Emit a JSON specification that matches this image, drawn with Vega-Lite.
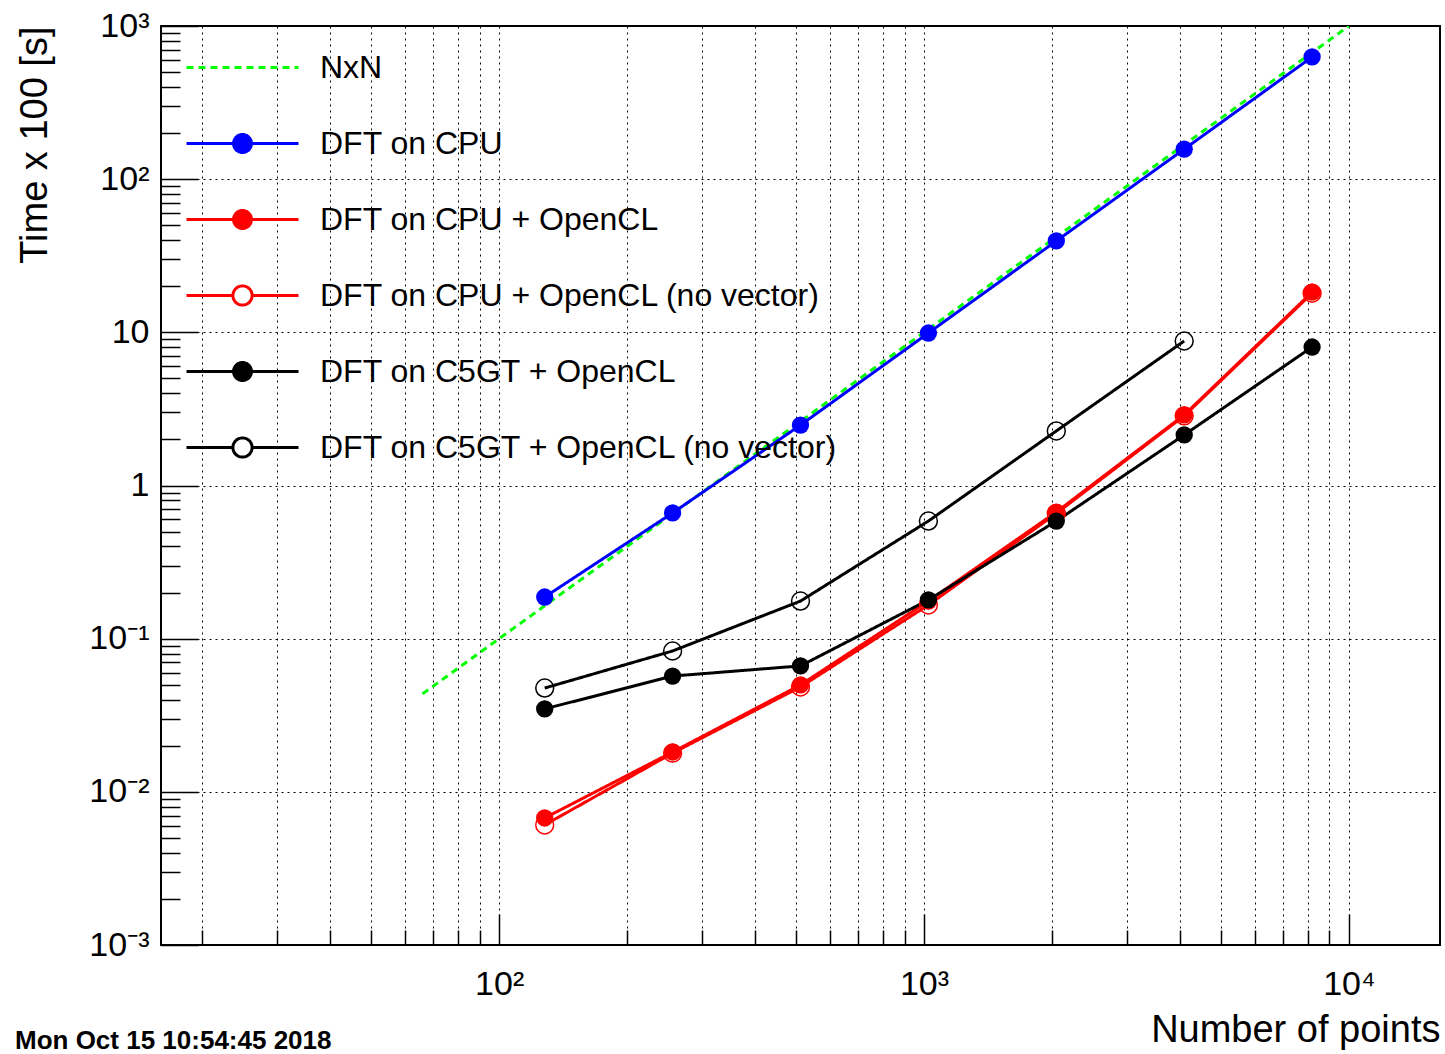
{
  "$schema": "https://vega.github.io/schema/vega-lite/v6.json",
  "width": 1279,
  "height": 919,
  "autosize": {"type": "none"},
  "padding": {"left": 161, "top": 26, "right": 5, "bottom": 109},
  "background": "white",
  "config": {
    "font": "Liberation Sans",
    "view": {"stroke": "#000000", "strokeWidth": 2}
  },
  "title": {
    "text": "Mon Oct 15 10:54:45 2018",
    "orient": "bottom",
    "anchor": "start",
    "frame": "group",
    "fontSize": 26,
    "fontWeight": "bold",
    "font": "Liberation Sans",
    "color": "#000000",
    "offset": 0,
    "dx": -146,
    "dy": -21
  },
  "resolve": {"legend": {"stroke": "independent", "fill": "independent", "shape": "independent", "strokeDash": "independent"}},
  "datasets": {
    "d": [
      {"series": "NxN", "n": 66, "t": 0.0436},
      {"series": "NxN", "n": 10000, "t": 1000},
      {"series": "DFT on CPU", "n": 128, "t": 0.187},
      {"series": "DFT on CPU", "n": 256, "t": 0.662},
      {"series": "DFT on CPU", "n": 512, "t": 2.48},
      {"series": "DFT on CPU", "n": 1024, "t": 9.9},
      {"series": "DFT on CPU", "n": 2048, "t": 39.5},
      {"series": "DFT on CPU", "n": 4096, "t": 157},
      {"series": "DFT on CPU", "n": 8192, "t": 628},
      {"series": "DFT on CPU + OpenCL", "n": 128, "t": 0.00675},
      {"series": "DFT on CPU + OpenCL", "n": 256, "t": 0.0182},
      {"series": "DFT on CPU + OpenCL", "n": 512, "t": 0.0499},
      {"series": "DFT on CPU + OpenCL", "n": 1024, "t": 0.176},
      {"series": "DFT on CPU + OpenCL", "n": 2048, "t": 0.671},
      {"series": "DFT on CPU + OpenCL", "n": 4096, "t": 2.89},
      {"series": "DFT on CPU + OpenCL", "n": 8192, "t": 18.3},
      {"series": "DFT on CPU + OpenCL (no vector)", "n": 128, "t": 0.00608},
      {"series": "DFT on CPU + OpenCL (no vector)", "n": 256, "t": 0.0179},
      {"series": "DFT on CPU + OpenCL (no vector)", "n": 512, "t": 0.0484},
      {"series": "DFT on CPU + OpenCL (no vector)", "n": 1024, "t": 0.166},
      {"series": "DFT on CPU + OpenCL (no vector)", "n": 2048, "t": 0.657},
      {"series": "DFT on CPU + OpenCL (no vector)", "n": 4096, "t": 2.85},
      {"series": "DFT on CPU + OpenCL (no vector)", "n": 8192, "t": 18.0},
      {"series": "DFT on C5GT + OpenCL", "n": 128, "t": 0.0348},
      {"series": "DFT on C5GT + OpenCL", "n": 256, "t": 0.057},
      {"series": "DFT on C5GT + OpenCL", "n": 512, "t": 0.0664},
      {"series": "DFT on C5GT + OpenCL", "n": 1024, "t": 0.179},
      {"series": "DFT on C5GT + OpenCL", "n": 2048, "t": 0.586},
      {"series": "DFT on C5GT + OpenCL", "n": 4096, "t": 2.14},
      {"series": "DFT on C5GT + OpenCL", "n": 8192, "t": 8.02},
      {"series": "DFT on C5GT + OpenCL (no vector)", "n": 128, "t": 0.0476},
      {"series": "DFT on C5GT + OpenCL (no vector)", "n": 256, "t": 0.0831},
      {"series": "DFT on C5GT + OpenCL (no vector)", "n": 512, "t": 0.176},
      {"series": "DFT on C5GT + OpenCL (no vector)", "n": 1024, "t": 0.586},
      {"series": "DFT on C5GT + OpenCL (no vector)", "n": 2048, "t": 2.27},
      {"series": "DFT on C5GT + OpenCL (no vector)", "n": 4096, "t": 8.78}
    ]
  },
  "data": {"name": "d"},
  "encoding": {
    "x": {
      "field": "n",
      "type": "quantitative",
      "scale": {"type": "log", "domain": [16, 16384], "nice": false},
      "axis": {
        "title": "Number of points",
        "titleAnchor": "end",
        "titleFontSize": 38,
        "titleFontWeight": "normal",
        "titleColor": "#000000",
        "titlePadding": 10,
        "values": [20, 30, 40, 50, 60, 70, 80, 90, 100, 200, 300, 400, 500, 600, 700, 800, 900, 1000, 2000, 3000, 4000, 5000, 6000, 7000, 8000, 9000, 10000],
        "labelExpr": "datum.value == 100 ? '10²' : datum.value == 1000 ? '10³' : datum.value == 10000 ? '10⁴' : ''",
        "labelFontSize": 34,
        "labelColor": "#000000",
        "labelPadding": {"condition": {"test": "abs(log(datum.value)/LN10 - round(log(datum.value)/LN10)) < 0.001", "value": 53}, "value": 37},
        "labelOverlap": false,
        "labelFlush": false,
        "labelBound": false,
        "tickSize": {"condition": {"test": "abs(log(datum.value)/LN10 - round(log(datum.value)/LN10)) < 0.001", "value": -31}, "value": -15},
        "tickColor": "#000000",
        "tickWidth": 1.5,
        "domain": false,
        "grid": true,
        "gridColor": "#000000",
        "gridDash": [2, 4],
        "gridWidth": 1,
        "gridOpacity": 1
      }
    },
    "y": {
      "field": "t",
      "type": "quantitative",
      "scale": {"type": "log", "domain": [0.001, 1000], "nice": false},
      "axis": {
        "title": "Time x 100 [s]",
        "titleAnchor": "end",
        "titleFontSize": 38,
        "titleFontWeight": "normal",
        "titleColor": "#000000",
        "titlePadding": 34,
        "values": [0.001, 0.002, 0.003, 0.004, 0.005, 0.006, 0.007, 0.008, 0.009, 0.01, 0.02, 0.03, 0.04, 0.05, 0.06, 0.07, 0.08, 0.09, 0.1, 0.2, 0.3, 0.4, 0.5, 0.6, 0.7, 0.8, 0.9, 1, 2, 3, 4, 5, 6, 7, 8, 9, 10, 20, 30, 40, 50, 60, 70, 80, 90, 100, 200, 300, 400, 500, 600, 700, 800, 900, 1000],
        "labelExpr": "datum.value == 1000 ? '10³' : datum.value == 100 ? '10²' : datum.value == 10 ? '10' : datum.value == 1 ? '1' : datum.value == 0.1 ? '10⁻¹' : datum.value == 0.01 ? '10⁻²' : datum.value == 0.001 ? '10⁻³' : ''",
        "labelFontSize": 34,
        "labelColor": "#000000",
        "labelPadding": {"condition": {"test": "abs(log(datum.value)/LN10 - round(log(datum.value)/LN10)) < 0.001", "value": 49}, "value": 31},
        "labelOverlap": false,
        "labelFlush": false,
        "labelBound": false,
        "tickSize": {"condition": {"test": "abs(log(datum.value)/LN10 - round(log(datum.value)/LN10)) < 0.001", "value": -37}, "value": -19},
        "tickColor": "#000000",
        "tickWidth": 1.5,
        "domain": false,
        "grid": true,
        "gridColor": "#000000",
        "gridDash": [2, 4],
        "gridWidth": 1,
        "gridOpacity": {"condition": {"test": "abs(log(datum.value)/LN10 - round(log(datum.value)/LN10)) < 0.001", "value": 1}, "value": 0}
      }
    }
  },
  "layer": [
    {
      "mark": {"type": "line", "strokeWidth": 3, "clip": true},
      "encoding": {
        "stroke": {
          "field": "series", "type": "nominal", "legend": null,
          "scale": {
            "domain": ["NxN", "DFT on CPU", "DFT on CPU + OpenCL", "DFT on CPU + OpenCL (no vector)", "DFT on C5GT + OpenCL", "DFT on C5GT + OpenCL (no vector)"],
            "range": ["#00ff00", "#0000ff", "#ff0000", "#ff0000", "#000000", "#000000"]
          }
        },
        "strokeDash": {
          "field": "series", "type": "nominal", "legend": null,
          "scale": {
            "domain": ["NxN", "DFT on CPU", "DFT on CPU + OpenCL", "DFT on CPU + OpenCL (no vector)", "DFT on C5GT + OpenCL", "DFT on C5GT + OpenCL (no vector)"],
            "range": [[7, 5], [1, 0], [1, 0], [1, 0], [1, 0], [1, 0]]
          }
        }
      }
    },
    {
      "transform": [{"filter": "indexof(['DFT on CPU + OpenCL (no vector)', 'DFT on C5GT + OpenCL (no vector)'], datum.series) >= 0"}],
      "mark": {"type": "point", "shape": "circle", "filled": false, "size": 320, "strokeWidth": 1.5, "opacity": 1},
      "encoding": {
        "stroke": {
          "field": "series", "type": "nominal", "legend": null,
          "scale": {
            "domain": ["NxN", "DFT on CPU", "DFT on CPU + OpenCL", "DFT on CPU + OpenCL (no vector)", "DFT on C5GT + OpenCL", "DFT on C5GT + OpenCL (no vector)"],
            "range": ["#00ff00", "#0000ff", "#ff0000", "#ff0000", "#000000", "#000000"]
          }
        }
      }
    },
    {
      "transform": [{"filter": "indexof(['DFT on CPU', 'DFT on CPU + OpenCL', 'DFT on C5GT + OpenCL'], datum.series) >= 0"}],
      "mark": {"type": "point", "shape": "circle", "filled": true, "size": 300, "strokeWidth": 0, "opacity": 1},
      "encoding": {
        "fill": {
          "field": "series", "type": "nominal", "legend": null,
          "scale": {
            "domain": ["NxN", "DFT on CPU", "DFT on CPU + OpenCL", "DFT on CPU + OpenCL (no vector)", "DFT on C5GT + OpenCL", "DFT on C5GT + OpenCL (no vector)"],
            "range": ["#00ff00", "#0000ff", "#ff0000", "#ffffff", "#000000", "#ffffff"]
          }
        }
      }
    },
    {
      "transform": [{"filter": "datum.n < 0"}],
      "mark": {"type": "point", "filled": true, "opacity": 1, "strokeWidth": 3},
      "encoding": {
        "stroke": {
          "field": "series", "type": "nominal",
          "scale": {
            "domain": ["NxN", "DFT on CPU", "DFT on CPU + OpenCL", "DFT on CPU + OpenCL (no vector)", "DFT on C5GT + OpenCL", "DFT on C5GT + OpenCL (no vector)"],
            "range": ["#00ff00", "#0000ff", "#ff0000", "#ff0000", "#000000", "#000000"]
          },
          "legend": {"orient": "none", "legendX": 64, "legendY": 24, "title": null, "padding": 0, "symbolSize": 1024, "symbolStrokeWidth": 3, "labelFontSize": 32, "labelFont": "Liberation Sans", "labelColor": "#000000", "labelOffset": 60, "rowPadding": 42, "labelLimit": 0, "symbolOpacity": 1}
        },
        "fill": {
          "field": "series", "type": "nominal",
          "scale": {
            "domain": ["NxN", "DFT on CPU", "DFT on CPU + OpenCL", "DFT on CPU + OpenCL (no vector)", "DFT on C5GT + OpenCL", "DFT on C5GT + OpenCL (no vector)"],
            "range": ["#00ff00", "#0000ff", "#ff0000", "#ffffff", "#000000", "#ffffff"]
          },
          "legend": {"orient": "none", "legendX": 64, "legendY": 24, "title": null, "padding": 0, "symbolSize": 1024, "symbolStrokeWidth": 3, "labelFontSize": 32, "labelFont": "Liberation Sans", "labelColor": "#000000", "labelOffset": 60, "rowPadding": 42, "labelLimit": 0, "symbolOpacity": 1}
        },
        "shape": {
          "field": "series", "type": "nominal",
          "scale": {
            "domain": ["NxN", "DFT on CPU", "DFT on CPU + OpenCL", "DFT on CPU + OpenCL (no vector)", "DFT on C5GT + OpenCL", "DFT on C5GT + OpenCL (no vector)"],
            "range": [
              "M-3.5,0H3.5",
              "M-3.5,0H-0.56M0.56,0H3.5M0.56,0A0.56,0.56,0,1,1,-0.56,0A0.56,0.56,0,1,1,0.56,0Z",
              "M-3.5,0H-0.56M0.56,0H3.5M0.56,0A0.56,0.56,0,1,1,-0.56,0A0.56,0.56,0,1,1,0.56,0Z",
              "M-3.5,0H-0.6M0.6,0H3.5M0.6,0A0.6,0.6,0,1,1,-0.6,0A0.6,0.6,0,1,1,0.6,0Z",
              "M-3.5,0H-0.56M0.56,0H3.5M0.56,0A0.56,0.56,0,1,1,-0.56,0A0.56,0.56,0,1,1,0.56,0Z",
              "M-3.5,0H-0.6M0.6,0H3.5M0.6,0A0.6,0.6,0,1,1,-0.6,0A0.6,0.6,0,1,1,0.6,0Z"
            ]
          },
          "legend": {"orient": "none", "legendX": 64, "legendY": 24, "title": null, "padding": 0, "symbolSize": 1024, "symbolStrokeWidth": 3, "labelFontSize": 32, "labelFont": "Liberation Sans", "labelColor": "#000000", "labelOffset": 60, "rowPadding": 42, "labelLimit": 0, "symbolOpacity": 1}
        },
        "strokeDash": {
          "field": "series", "type": "nominal",
          "scale": {
            "domain": ["NxN", "DFT on CPU", "DFT on CPU + OpenCL", "DFT on CPU + OpenCL (no vector)", "DFT on C5GT + OpenCL", "DFT on C5GT + OpenCL (no vector)"],
            "range": [[7, 5], [1, 0], [1, 0], [1, 0], [1, 0], [1, 0]]
          },
          "legend": {"orient": "none", "legendX": 64, "legendY": 24, "title": null, "padding": 0, "symbolSize": 1024, "symbolStrokeWidth": 3, "labelFontSize": 32, "labelFont": "Liberation Sans", "labelColor": "#000000", "labelOffset": 60, "rowPadding": 42, "labelLimit": 0, "symbolOpacity": 1}
        }
      }
    }
  ]
}
